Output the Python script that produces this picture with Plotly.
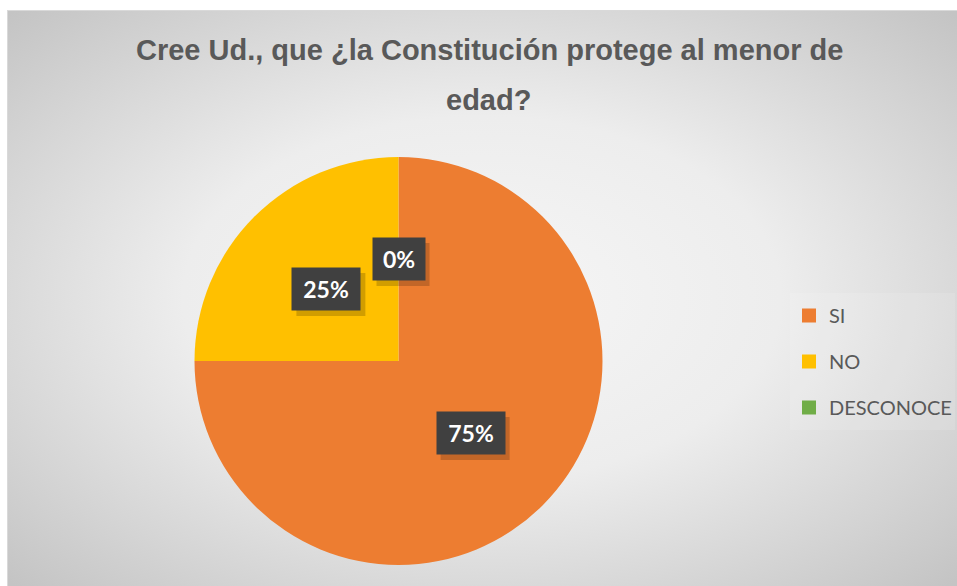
import math
import plotly.graph_objects as go

W, H = 957, 586

categories = ["SI", "NO", "DESCONOCE"]
values = [75, 25, 0]
colors = ["#ED7D31", "#FFC000", "#70AD47"]
pct_labels = ["75%", "25%", "0%"]
title_lines = ["Cree Ud., que ¿la Constitución protege al menor de", "edad?"]

# pie geometry (pixels)
cx, cy, r = 398.5, 361.0, 204.0

def px(x):
    return x / W

def py(y):
    return 1 - y / H

svg = (
    "data:image/svg+xml;utf8,"
    "<svg xmlns='http://www.w3.org/2000/svg' width='950' height='576'>"
    "<defs><radialGradient id='g' cx='50%25' cy='50%25' r='70%25'>"
    "<stop offset='0%25' stop-color='%23f6f6f6'/>"
    "<stop offset='45%25' stop-color='%23ededed'/>"
    "<stop offset='100%25' stop-color='%23c4c4c4'/>"
    "</radialGradient></defs>"
    "<rect width='950' height='576' fill='url(%23g)'/></svg>"
)

fig = go.Figure()
fig.add_trace(go.Pie(
    labels=categories, values=values, sort=False, direction="clockwise",
    rotation=0, marker=dict(colors=colors, line=dict(width=0)),
    textinfo="none", showlegend=False, hoverinfo="label+percent",
    domain=dict(x=[px(cx - r), px(cx + r)], y=[py(cy + r), py(cy - r)]),
))

# legend entries via dummy traces (for spacing control)
for i, (c, col) in enumerate(zip(categories, colors)):
    fig.add_trace(go.Scatter(
        x=[None], y=[None], mode="markers", name=c, legendgroup=c,
        marker=dict(symbol="square", size=14, color=col),
        showlegend=True,
    ))

annotations = []
shapes = []
total = sum(values)
cum = 0
for v, lab in zip(values, pct_labels):
    mid = (cum + v / 2) / total * 2 * math.pi
    cum += v
    x = cx + 0.5 * r * math.sin(mid)
    y = cy - 0.5 * r * math.cos(mid)
    w = 62 if len(lab) == 3 else 46
    bw, bh = w + 6, 42
    # shadow
    shapes.append(dict(
        type="rect", xref="paper", yref="paper",
        x0=px(x - bw / 2 + 4), x1=px(x + bw / 2 + 5),
        y0=py(y + bh / 2 + 6), y1=py(y - bh / 2 + 5),
        fillcolor="rgba(0,0,0,0.18)", line=dict(width=0),
    ))
    annotations.append(dict(
        x=px(x), y=py(y), xref="paper", yref="paper",
        xanchor="center", yanchor="middle",
        text="<b>" + lab + "</b>", showarrow=False,
        font=dict(family="Lato", size=23, color="white"),
        bgcolor="#404040", width=w, height=36, borderpad=3,
    ))

annotations.append(dict(
    x=px(489.5), y=py(50), xref="paper", yref="paper",
    xanchor="center", yanchor="middle",
    text="<b>" + title_lines[0] + "</b>", showarrow=False,
    font=dict(family="Liberation Sans, Arial", size=29, color="#595959"),
))
annotations.append(dict(
    x=px(488), y=py(100), xref="paper", yref="paper",
    xanchor="center", yanchor="middle",
    text="<b>" + title_lines[1] + "</b>", showarrow=False,
    font=dict(family="Liberation Sans, Arial", size=29, color="#595959"),
))

shapes += [
    dict(type="line", xref="paper", yref="paper", x0=px(7), x1=1,
         y0=py(10.5), y1=py(10.5), line=dict(color="#d9d9d9", width=1)),
    dict(type="line", xref="paper", yref="paper", x0=px(7.5), x1=px(7.5),
         y0=0, y1=py(10), line=dict(color="#d9d9d9", width=1)),
    dict(type="rect", xref="paper", yref="paper", x0=px(790), x1=px(955),
         y0=py(430), y1=py(293), line=dict(width=0),
         fillcolor="rgba(255,255,255,0.12)", layer="below"),
]

fig.update_layout(
    width=W, height=H,
    margin=dict(l=0, r=0, t=0, b=0),
    paper_bgcolor="white", plot_bgcolor="rgba(0,0,0,0)",
    xaxis=dict(visible=False), yaxis=dict(visible=False),
    images=[dict(source=svg, xref="paper", yref="paper", x=px(7), y=py(10),
                 sizex=px(W - 7), sizey=(H - 10) / H, sizing="stretch",
                 xanchor="left", yanchor="top", layer="below")],
    shapes=shapes,
    legend=dict(x=px(789), y=py(296), xanchor="left", yanchor="top",
                font=dict(family="Lato", size=20, color="#595959"),
                bgcolor="rgba(0,0,0,0)", tracegroupgap=17,
                itemwidth=30, traceorder="grouped"),
    annotations=annotations,
    hovermode="closest",
)

fig.write_html("out.html", config={"displayModeBar": False},
               post_script="document.body.style.margin='0';")
